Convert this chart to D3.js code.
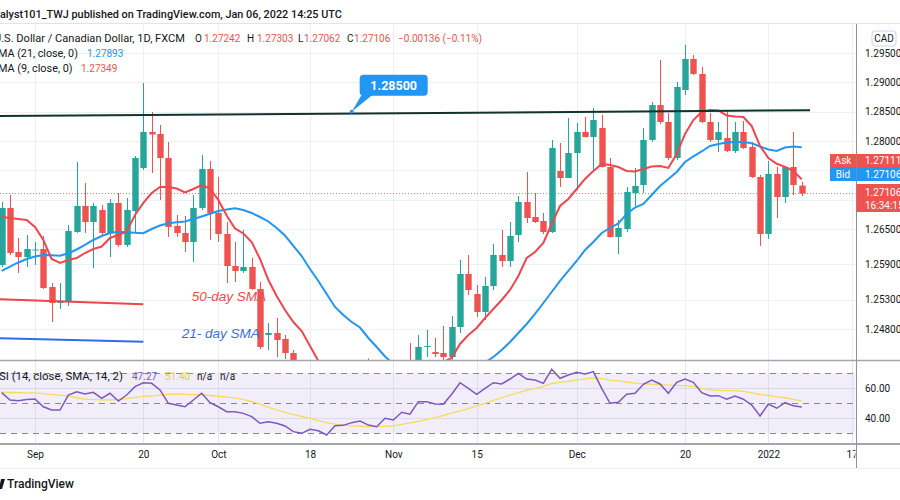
<!DOCTYPE html>
<html>
<head>
<meta charset="utf-8">
<script src="https://cdn.jsdelivr.net/npm/d3@7"></script>
<style>
html,body{margin:0;padding:0;background:#ffffff;}
svg{display:block;}
</style>
</head>
<body>
<svg id="chart" width="900" height="500"></svg>
<script>
// ---------- DATA (index 0 = 1 Sep 2021, daily bars) ----------
const startIndex = -4;
const opens = [1.25890,1.26861,1.26111,1.26026,1.26137,1.26162,1.25515,1.25243,1.25260,1.26452,
1.26895,1.26622,1.26827,1.26435,1.26946,1.26231,1.26810,1.27542,1.28155,1.28121,
1.27712,1.26554,1.26435,1.26282,1.26861,1.27525,1.26776,1.26418,1.25873,1.25788,
1.25856,1.25481,1.24698,1.24732,1.24630,1.24391,1.2420,1.2406,1.2415,1.2393,
1.2378,1.2392,1.2400,1.2390,1.2420,1.2403,1.2396,1.2412,1.2404,1.24238,
1.24238,1.24494,1.24408,1.24391,1.24323,1.24834,1.25737,1.25396,1.25090,1.25532,
1.26060,1.25958,1.26401,1.26963,1.26707,1.26639,1.26452,1.27491,1.27372,1.27797,
1.28155,1.28070,1.28223,1.27559,1.26367,1.26503,1.27116,1.27252,1.28019,1.28615,
1.28325,1.27712,1.28870,1.29398,1.29143,1.28325,1.28019,1.28053,1.27831,1.28155,
1.27900,1.27389,1.26418,1.27440,1.27048,1.27559,1.27242];
const highs = [1.26963,1.27082,1.26350,1.26401,1.26282,1.26384,1.25583,1.25583,1.26571,1.27644,
1.27287,1.26946,1.26912,1.27014,1.27116,1.27031,1.27746,1.28989,1.28496,1.28274,
1.27985,1.26742,1.26725,1.27082,1.27763,1.27661,1.27389,1.26622,1.26282,1.26486,
1.26009,1.25601,1.24902,1.24987,1.24698,1.24443,1.2425,1.2421,1.2418,1.2400,
1.2397,1.2410,1.2413,1.2414,1.2430,1.2418,1.2419,1.2420,1.2424,1.24562,
1.24698,1.24783,1.24647,1.24851,1.25022,1.25975,1.26060,1.25549,1.25686,1.26248,
1.26486,1.26622,1.27065,1.27474,1.27116,1.26776,1.28019,1.27968,1.28393,1.28308,
1.28410,1.28564,1.28445,1.27712,1.26656,1.27218,1.27542,1.28223,1.28666,1.29381,
1.28479,1.29007,1.29637,1.29466,1.29262,1.28479,1.28325,1.28530,1.28325,1.28342,
1.27985,1.27423,1.27661,1.27559,1.27570,1.28155,1.27303];
const lows = [1.25856,1.26060,1.25754,1.25856,1.25890,1.25481,1.24919,1.25141,1.25192,1.26435,
1.26435,1.25839,1.26401,1.26026,1.26197,1.26197,1.26452,1.27508,1.27457,1.26997,
1.26367,1.26367,1.26111,1.25941,1.26827,1.26316,1.26282,1.25583,1.25601,1.25754,
1.25464,1.24460,1.24443,1.24323,1.24289,1.24068,1.2396,1.2398,1.2385,1.2365,
1.2370,1.2385,1.2382,1.2383,1.2393,1.2390,1.2390,1.2398,1.2400,1.2402,
1.2407,1.24323,1.24323,1.24272,1.24250,1.24732,1.25379,1.25004,1.24953,1.25464,
1.25856,1.25856,1.26282,1.26605,1.26605,1.26418,1.26435,1.27218,1.27372,1.27167,
1.28062,1.27508,1.27550,1.26360,1.26077,1.26452,1.26895,1.27116,1.27985,1.28291,
1.27678,1.27678,1.28785,1.29126,1.28308,1.27985,1.27814,1.27814,1.27797,1.27866,
1.27372,1.26214,1.26333,1.26690,1.26946,1.27082,1.27062];
const closes = [1.26861,1.26094,1.26026,1.26162,1.26154,1.25498,1.25243,1.25277,1.26469,1.26895,
1.26622,1.26895,1.26435,1.26946,1.26231,1.26827,1.27712,1.28155,1.28112,1.27712,
1.26537,1.26435,1.26282,1.26861,1.27525,1.26776,1.26418,1.25873,1.25788,1.25856,
1.25481,1.24494,1.24732,1.24613,1.24391,1.24204,1.2406,1.2415,1.2393,1.2378,
1.2392,1.2400,1.2390,1.2405,1.2403,1.2396,1.2412,1.2404,1.2418,1.24102,
1.24494,1.24511,1.24374,1.24323,1.24834,1.25737,1.25464,1.25090,1.25532,1.26060,
1.25958,1.26384,1.26963,1.26690,1.26622,1.26452,1.27883,1.27372,1.27797,1.28155,
1.28070,1.28359,1.27559,1.26367,1.26520,1.27133,1.27235,1.28019,1.28615,1.28325,
1.27712,1.28921,1.29398,1.29143,1.28325,1.28019,1.28155,1.27831,1.28155,1.27883,
1.27389,1.26418,1.27440,1.27048,1.27559,1.27252,1.27106];
const ma9 = [1.26707,1.26690,1.26673,1.26656,1.26537,1.26316,1.25992,1.25924,1.25975,1.26009,
1.26094,1.26162,1.26205,1.26350,1.26401,1.26460,1.26742,1.26946,1.27116,1.27218,
1.27218,1.27193,1.27125,1.27184,1.27252,1.27193,1.26997,1.26733,1.26512,1.26426,
1.26282,1.25992,1.25635,1.25362,1.25124,1.24919,1.24766,1.24511,1.24255,1.24068,
1.23932,1.23846,1.23795,1.23761,1.23761,1.23778,1.23812,1.23846,1.23898,1.23966,
1.24034,1.24102,1.24170,1.24238,1.24306,1.24545,1.24698,1.24817,1.24987,1.25141,
1.25294,1.25464,1.25703,1.26009,1.26111,1.26265,1.26588,1.26895,1.27014,1.27184,
1.27355,1.27491,1.27610,1.27593,1.27559,1.27491,1.27482,1.27525,1.27567,1.27576,
1.27542,1.27780,1.28121,1.28359,1.28496,1.28530,1.28521,1.28436,1.28419,1.28410,
1.28257,1.27917,1.27712,1.27613,1.27562,1.27491,1.27349];
const ma21 = [1.25788,1.25864,1.25933,1.25992,1.26035,1.26060,1.26055,1.26048,1.26089,1.26154,
1.26231,1.26316,1.26384,1.26435,1.26455,1.26447,1.26438,1.26432,1.26503,1.26563,
1.26602,1.26617,1.26632,1.26673,1.26716,1.26762,1.26810,1.26834,1.26854,1.26827,
1.26776,1.26707,1.26631,1.26520,1.26392,1.26214,1.26043,1.25822,1.25618,1.25396,
1.25175,1.25039,1.24919,1.24825,1.24647,1.24494,1.24332,1.24204,1.24102,1.24034,
1.23983,1.23966,1.23983,1.24034,1.24102,1.24136,1.24170,1.24204,1.24230,1.24323,
1.24443,1.24579,1.24732,1.24885,1.25056,1.25243,1.25430,1.25618,1.25788,1.25958,
1.26145,1.26282,1.26435,1.26520,1.26597,1.26759,1.26869,1.26929,1.27082,1.27235,
1.27355,1.27474,1.27644,1.27738,1.27823,1.27917,1.27951,1.27976,1.27985,1.27985,
1.27963,1.27908,1.27857,1.27832,1.27891,1.27908,1.27893];
const rsi = [56.9,52,51.5,52.3,52.7,47.5,45.3,45.3,55.3,57.5,
56,57.1,53.1,56.5,51.3,55.3,60.9,63.5,63.1,58.7,
49.8,48.7,47.5,52,56.5,50.2,47.5,44.2,44.2,43.1,
40.9,36.5,37.5,36.5,34.7,30.9,29.8,32.5,31.5,28.7,
34.9,35.1,36.9,38,35.3,34.2,39.8,38.7,43.8,42.5,
50.9,50.9,49.3,49.1,55.8,63.5,59.8,55.8,59.8,63.5,
62.7,66,69.8,66,65.3,63.1,72.5,66.5,68.7,70.5,
69.3,70.9,59.8,49.8,50.5,55.8,56.5,62.5,65.3,62.7,
56.5,63.8,66,63.8,56.9,54.7,54.9,52.5,54.7,52.5,
48.7,41.3,49.3,46.5,50.2,48.2,47.27];
const rsiSma = [57.1,57,56.9,56.8,56.7,56.3,55.8,55.2,54.6,53.5,
52.6,52.3,52.1,52,52.4,52.9,53.8,54.4,54.8,55.3,
55.8,56,55.8,55.6,55.5,55,54.5,53.9,53.4,52.3,
51,49.2,47.1,45.5,43.7,42.3,41,39.7,38.3,36.9,
35.9,35.3,34.8,34.5,34.2,34.3,34.5,34.7,35.7,36.7,
37.7,39,40.2,41.7,43.3,44.7,46.3,48.1,49.7,51.7,
53.5,55.3,57,58.5,59.7,61,63,63.8,64.5,65.3,
66.1,66.8,66.2,65.3,64.7,64,63.3,62.9,62.5,62.2,
61.9,61.7,61.5,61.1,59.7,58.7,58.5,58.3,58.2,57.7,
56.8,55.8,55,54.1,53.5,52.4,51.4];
const priceGrid = [1.295,1.29,1.285,1.28,1.275,1.27,1.265,1.259,1.253,1.248];
const priceTickLabels = [1.295,1.29,1.285,1.28,1.265,1.259,1.253,1.248];
const timeTickIdx = [0,13,22,33,43,53,65,78,88,98];
const timeTickLabels = ["Sep","20","Oct","18","Nov","15","Dec","20","2022","17"];
const rsiTicks = [60,40];
const rsiLevels = [70,50,30];
const trendLine = [[-4.2,1.28427],[93,1.28525]];
const redSegment = [[-4.2,1.25306],[13,1.25221]];
const blueSegment = [[-4.2,1.24642],[13,1.24584]];
const calloutPoint = [38,1.285];
const lastPrice = 1.27106;

// ---------- STYLE ----------
const FONT = "Roboto, 'Noto Sans', 'DejaVu Sans', sans-serif";
const TEXT = "#131722", UP = "#26a69a", DOWN = "#ef5350", BLUE = "#2196f3";
const GRID = "#edf0f5";
const PR = 856;

const svg = d3.select("#chart").attr("font-family", FONT);
const x = d3.scaleLinear().domain([0, 92]).range([35, 801.7]);
const y = d3.scaleLinear().domain([1.248, 1.295]).range([329, 53]);
const yr = d3.scaleLinear().domain([30, 70]).range([433, 373]);
const idx = opens.map((_, k) => startIndex + k);
const candles = idx.map((i, k) => ({i, o: opens[k], h: highs[k], l: lows[k], c: closes[k]}));

const defs = svg.append("defs");
defs.append("clipPath").attr("id", "clipMain").append("rect").attr("x", 0).attr("y", 24).attr("width", PR - 0.5).attr("height", 336);
defs.append("clipPath").attr("id", "clipRsi").append("rect").attr("x", 0).attr("y", 361).attr("width", PR - 0.5).attr("height", 82);
defs.append("clipPath").attr("id", "clipTime").append("rect").attr("x", 0).attr("y", 445).attr("width", PR - 0.5).attr("height", 23);

svg.append("rect").attr("width", 900).attr("height", 500).attr("fill", "#fff");

// ---------- MAIN PANE ----------
const gMain = svg.append("g").attr("clip-path", "url(#clipMain)");
gMain.selectAll("line.hg").data(priceGrid).join("line").attr("class", "hg")
  .attr("x1", 0).attr("x2", PR).attr("y1", d => Math.round(y(d)) + 0.5).attr("y2", d => Math.round(y(d)) + 0.5)
  .attr("stroke", GRID);
gMain.selectAll("line.vg").data(timeTickIdx).join("line").attr("class", "vg")
  .attr("x1", d => Math.round(x(d)) + 0.5).attr("x2", d => Math.round(x(d)) + 0.5).attr("y1", 24).attr("y2", 360)
  .attr("stroke", GRID);

gMain.append("line").attr("x1", 0).attr("x2", PR).attr("y1", y(lastPrice)).attr("y2", y(lastPrice))
  .attr("stroke", DOWN).attr("stroke-width", 1).attr("stroke-dasharray", "1,2").attr("opacity", 0.8);

const gC = gMain.append("g");
gC.selectAll("line.wick").data(candles).join("line").attr("class", "wick")
  .attr("x1", d => Math.round(x(d.i)) + 0.5).attr("x2", d => Math.round(x(d.i)) + 0.5)
  .attr("y1", d => y(d.h)).attr("y2", d => y(d.l))
  .attr("stroke", d => d.c >= d.o ? UP : DOWN).attr("stroke-width", 1);
gC.selectAll("rect.body").data(candles).join("rect").attr("class", "body")
  .attr("x", d => Math.round(x(d.i)) + 0.5 - 3.2).attr("width", 6.4)
  .attr("y", d => y(Math.max(d.o, d.c)))
  .attr("height", d => Math.max(1, Math.abs(y(d.o) - y(d.c))))
  .attr("fill", d => d.c >= d.o ? UP : DOWN);

const lineGen = d3.line().x((d, k) => x(idx[k])).y(d => y(d));
gMain.append("path").datum(ma21).attr("d", lineGen).attr("fill", "none").attr("stroke", BLUE).attr("stroke-width", 2);
gMain.append("path").datum(ma9).attr("d", lineGen).attr("fill", "none").attr("stroke", "#f04650").attr("stroke-width", 2);

const segGen = d3.line().x(d => x(d[0])).y(d => y(d[1]));
gMain.append("path").datum(redSegment).attr("d", segGen).attr("stroke", "#f0434c").attr("stroke-width", 2).attr("fill", "none");
gMain.append("path").datum(blueSegment).attr("d", segGen).attr("stroke", "#2f6cf0").attr("stroke-width", 2).attr("fill", "none");
gMain.append("path").datum(trendLine).attr("d", segGen).attr("stroke", "#12322c").attr("stroke-width", 2).attr("fill", "none");

gMain.append("text").attr("x", x(18.8)).attr("y", y(1.2528)).text("50-day SMA")
  .attr("font-family", "'Liberation Sans', Arial, sans-serif").attr("font-style", "italic")
  .attr("font-size", 13.5).attr("fill", "#ef4a4f");
gMain.append("text").attr("x", x(17.6)).attr("y", y(1.24647)).text("21- day SMA")
  .attr("font-family", "'Liberation Sans', Arial, sans-serif").attr("font-style", "italic")
  .attr("font-size", 13.5).attr("fill", "#3a6ee8");

const ax = x(calloutPoint[0]), ay = y(calloutPoint[1]);
const gCall = svg.append("g");
gCall.append("path").attr("d", `M${ax+10},${ay-17} L${ax+21},${ay-17} L${ax},${ay} Z`).attr("fill", BLUE);
gCall.append("rect").attr("x", ax + 8).attr("y", ay - 37).attr("width", 68).attr("height", 21).attr("rx", 4).attr("fill", BLUE);
gCall.append("circle").attr("cx", ax).attr("cy", ay).attr("r", 2).attr("fill", BLUE);
gCall.append("text").attr("x", ax + 42).attr("y", ay - 26.5).attr("text-anchor", "middle").attr("dominant-baseline", "central")
  .attr("font-size", 12.5).attr("font-weight", 700).attr("fill", "#fff").text("1.28500");

// ---------- RSI PANE ----------
const gR = svg.append("g").attr("clip-path", "url(#clipRsi)");
gR.append("rect").attr("x", 0).attr("width", PR).attr("y", yr(70)).attr("height", yr(30) - yr(70)).attr("fill", "rgba(126,87,194,0.10)");
gR.selectAll("line.vg").data(timeTickIdx).join("line").attr("class", "vg")
  .attr("x1", d => Math.round(x(d)) + 0.5).attr("x2", d => Math.round(x(d)) + 0.5).attr("y1", 361).attr("y2", 444)
  .attr("stroke", "rgba(200,205,220,0.45)");
gR.selectAll("line.rg").data(rsiTicks).join("line").attr("class", "rg")
  .attr("x1", 0).attr("x2", PR).attr("y1", d => Math.round(yr(d)) + 0.5).attr("y2", d => Math.round(yr(d)) + 0.5)
  .attr("stroke", "rgba(150,160,190,0.25)");
gR.selectAll("line.lvl").data(rsiLevels).join("line").attr("class", "lvl")
  .attr("x1", 0).attr("x2", PR).attr("y1", d => Math.round(yr(d)) + 0.5).attr("y2", d => Math.round(yr(d)) + 0.5)
  .attr("stroke", "#868993").attr("stroke-dasharray", "6,5");
const rsiGen = d3.line().x((d, k) => x(idx[k])).y(d => yr(d));
gR.append("path").datum(rsiSma).attr("d", rsiGen).attr("fill", "none").attr("stroke", "#f5dc5a").attr("stroke-width", 1.3);
gR.append("path").datum(rsi).attr("d", rsiGen).attr("fill", "none").attr("stroke", "#7e57c2").attr("stroke-width", 1.5);

// ---------- SEPARATORS ----------
svg.append("line").attr("x1", 0).attr("x2", 900).attr("y1", 23.5).attr("y2", 23.5).attr("stroke", "#e0e3eb");
svg.append("line").attr("x1", 0).attr("x2", 900).attr("y1", 360.5).attr("y2", 360.5).attr("stroke", "#a3a6af").attr("stroke-width", 1.5);
svg.append("line").attr("x1", 0).attr("x2", 900).attr("y1", 444).attr("y2", 444).attr("stroke", "#a3a6af").attr("stroke-width", 2);
svg.append("line").attr("x1", PR + 0.5).attr("x2", PR + 0.5).attr("y1", 24).attr("y2", 468).attr("stroke", "#8f929b");
svg.append("line").attr("x1", 0).attr("x2", 900).attr("y1", 468.5).attr("y2", 468.5).attr("stroke", "#e9ecf2");

// ---------- AXES ----------
const yAxis = svg.append("g").attr("transform", `translate(${PR},0)`)
  .call(d3.axisRight(y).tickValues(priceTickLabels).tickFormat(d3.format(".5f")).tickSize(0).tickPadding(9));
yAxis.select(".domain").remove();
yAxis.selectAll("text").attr("font-family", FONT).attr("font-size", 10).attr("fill", TEXT);

const rAxis = svg.append("g").attr("transform", `translate(${PR},0)`)
  .call(d3.axisRight(yr).tickValues(rsiTicks).tickFormat(d3.format(".2f")).tickSize(0).tickPadding(9));
rAxis.select(".domain").remove();
rAxis.selectAll("text").attr("font-family", FONT).attr("font-size", 10).attr("fill", TEXT);

const xAxis = svg.append("g").attr("clip-path", "url(#clipTime)").append("g").attr("transform", "translate(0,444)")
  .call(d3.axisBottom(x).tickValues(timeTickIdx).tickFormat((d, k) => timeTickLabels[k]).tickSize(0).tickPadding(7));
xAxis.select(".domain").remove();
xAxis.selectAll("text").attr("font-family", FONT).attr("font-size", 10).attr("fill", TEXT);

// ---------- PRICE LABELS (right) ----------
svg.append("rect").attr("x", 872).attr("y", 31).attr("width", 24).attr("height", 15).attr("rx", 3)
  .attr("fill", "#fff").attr("stroke", "#d1d4dc");
svg.append("text").attr("x", 884).attr("y", 38.5).attr("text-anchor", "middle").attr("dominant-baseline", "central")
  .attr("font-size", 10).attr("fill", TEXT).text("CAD");

function tag(x0, y0, w, h, fill, txt, tx, anchor) {
  svg.append("rect").attr("x", x0).attr("y", y0).attr("width", w).attr("height", h).attr("fill", fill);
  svg.append("text").attr("x", tx).attr("y", y0 + h / 2).attr("text-anchor", anchor).attr("dominant-baseline", "central")
    .attr("font-size", 10).attr("fill", "#fff").text(txt);
}
tag(830, 154, 26, 13, DOWN, "Ask", 843, "middle");
tag(856.5, 154, 44, 13, DOWN, "1.27111", 865, "start");
tag(830, 167, 26, 14, BLUE, "Bid", 843, "middle");
tag(856.5, 167, 44, 14, BLUE, "1.27106", 865, "start");
svg.append("rect").attr("x", 856.5).attr("y", 184).attr("width", 44).attr("height", 28).attr("fill", DOWN);
svg.append("text").attr("x", 865).attr("y", 192.5).attr("dominant-baseline", "central").attr("font-size", 10).attr("fill", "#fff").text("1.27106");
svg.append("text").attr("x", 865).attr("y", 205).attr("dominant-baseline", "central").attr("font-size", 10).attr("fill", "#fff").text("16:34:15");

// ---------- LEGENDS ----------
function fit(sel, target) {
  const w = sel.node().getComputedTextLength();
  if (w > 0) sel.attr("font-size", parseFloat(sel.attr("font-size")) * target / w);
  return sel;
}
function txt(xp, yp, s, color, size, weight) {
  return svg.append("text").attr("x", xp).attr("y", yp).attr("dominant-baseline", "central")
    .attr("font-size", size || 10).attr("font-weight", weight || 400).attr("fill", color || TEXT).text(s);
}
fit(txt(0, 14, "alyst101_TWJ published on TradingView.com, Jan 06, 2022 14:25 UTC", TEXT, 11, 500), 342);
fit(txt(-6, 38, "U.S. Dollar / Canadian Dollar, 1D, FXCM", TEXT, 10), 191);
txt(195, 38, "O"); txt(204, 38, "1.27242", DOWN);
txt(247, 38, "H"); txt(257, 38, "1.27303", DOWN);
txt(298, 38, "L"); txt(304, 38, "1.27062", DOWN);
txt(347, 38, "C"); txt(354, 38, "1.27106", DOWN);
txt(398, 38, "\u22120.00136 (\u22120.11%)", DOWN);
fit(txt(-2, 53, "MA (21, close, 0)", TEXT, 10), 80);
txt(87, 53, "1.27893", BLUE);
fit(txt(-2, 68, "MA (9, close, 0)", TEXT, 10), 74.7);
txt(81, 68, "1.27349", DOWN);

fit(txt(-8, 376, "RSI (14, close, SMA, 14, 2)", TEXT, 10), 131);
txt(132, 376, "47.27", "#7e57c2");
txt(165, 376, "51.40", "#e9cf3c");
txt(197, 376, "n/a", TEXT);
txt(220, 376, "n/a", TEXT);

svg.append("path").attr("d", "M1,479 L5,479 L2,489 L-1,489 Z").attr("fill", TEXT);
fit(txt(7, 484, "TradingView", TEXT, 12, 500), 67);
</script>
</body>
</html>
